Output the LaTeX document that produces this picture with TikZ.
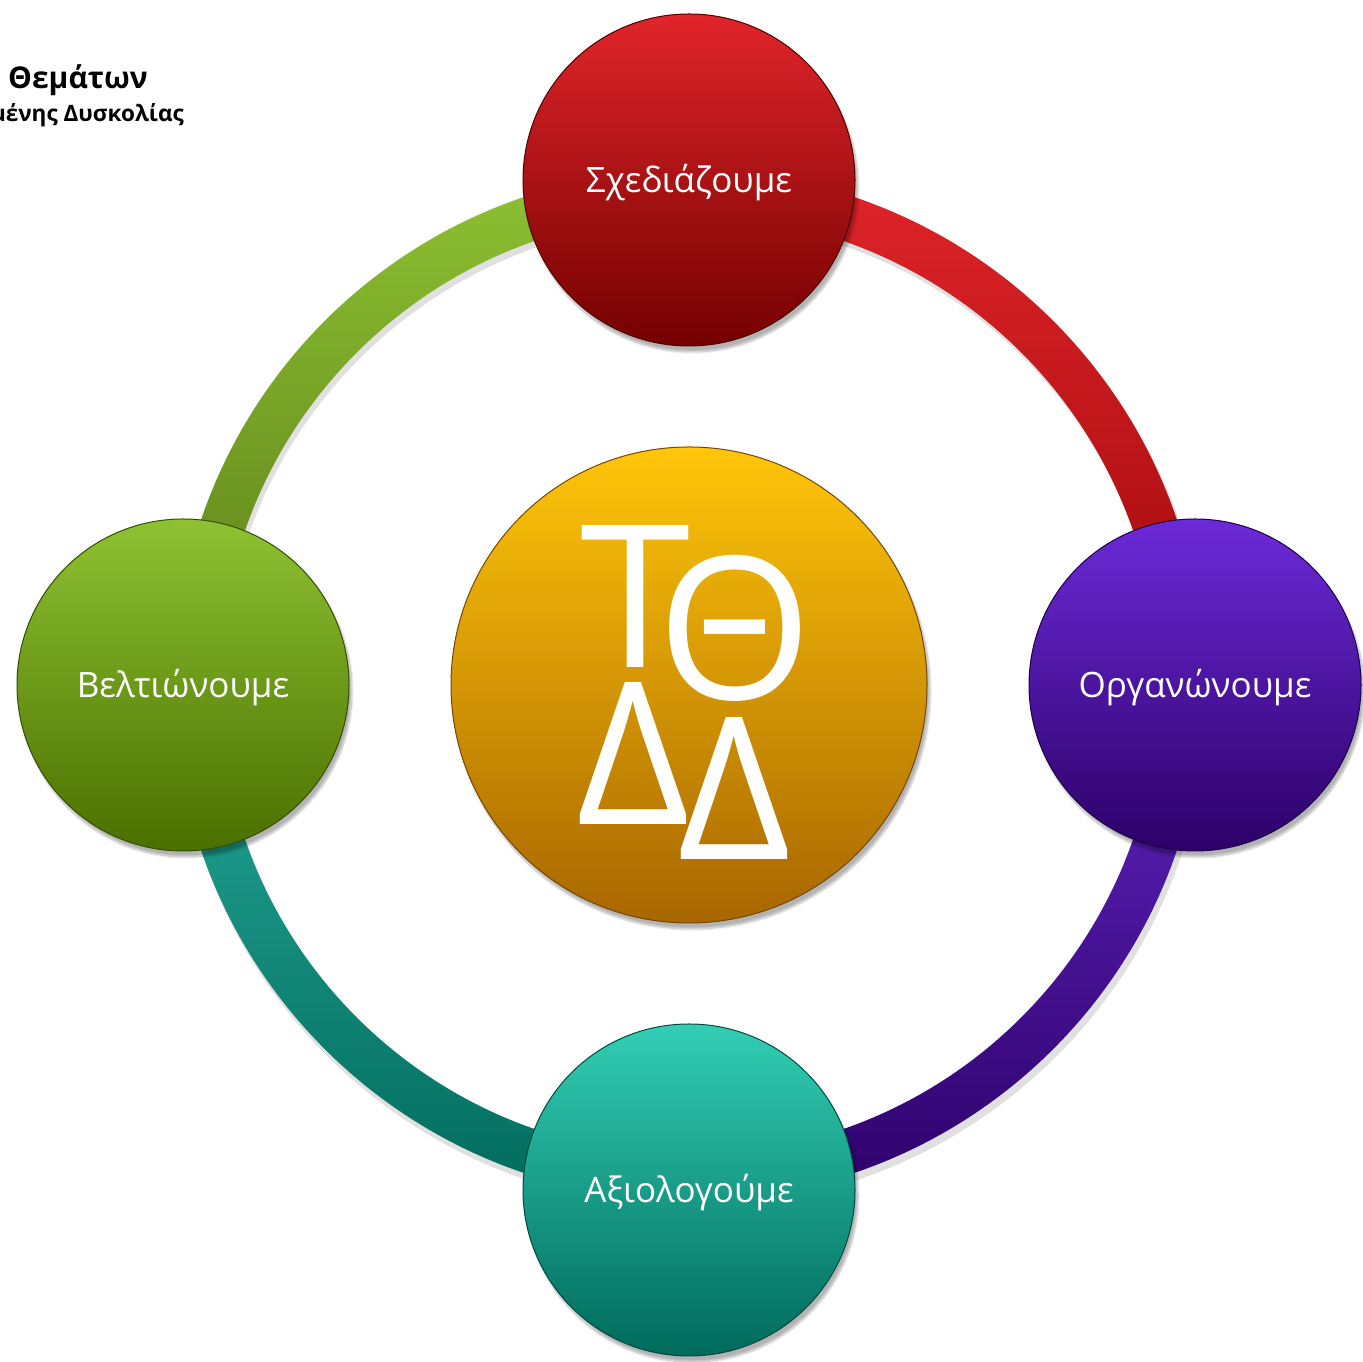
\documentclass[tikz,border=0pt]{standalone}
\usepackage{fontspec}
\usepackage{xcolor}
\setmainfont{Open Sans}
\usetikzlibrary{shadows.blur}

\definecolor{planTop}{HTML}{E0252A}
\definecolor{planMid}{HTML}{BC0A0D}
\definecolor{planBot}{HTML}{740000}
\definecolor{orgTop}{HTML}{6C2AD8}
\definecolor{orgMid}{HTML}{4A0AA8}
\definecolor{orgBot}{HTML}{2C0068}
\definecolor{evalTop}{HTML}{32CEB4}
\definecolor{evalMid}{HTML}{0FA08E}
\definecolor{evalBot}{HTML}{006A5C}
\definecolor{fixTop}{HTML}{8EC232}
\definecolor{fixMid}{HTML}{6A9A10}
\definecolor{fixBot}{HTML}{4A7000}
\definecolor{hubTop}{HTML}{FFC60A}
\definecolor{hubMid}{HTML}{FAA600}
\definecolor{hubBot}{HTML}{A86600}

\begin{document}
\begin{tikzpicture}[x=1pt, y=1pt,
    stage/.style={circle, minimum size=332pt, inner sep=0pt, text=white,
        font=\fontsize{35}{40}\selectfont, text height=25pt, text depth=0pt,
        blur shadow={shadow xshift=3pt, shadow yshift=-6pt, shadow blur steps=10, shadow opacity=30}},
    letter/.style={anchor=base, inner sep=0pt, text=white, font=\fontsize{199}{200}\selectfont},
    title/.style={inner sep=0pt, font=\bfseries\fontsize{30}{32}\selectfont}]

            \useasboundingbox (0,0) rectangle (1363,1362);

            % Centre
            \node[circle, minimum size=476pt, inner sep=0pt, top color=hubTop, middle color=hubMid,
                bottom color=hubBot, draw=hubBot!70!black, line width=1pt,
                blur shadow={shadow xshift=3pt, shadow yshift=-6pt, shadow blur steps=10, shadow opacity=30}]
                (hub) at (689,677) {};
            \node[letter] (t) at (636,694) {Τ};
            \node[letter] (th) at (735,662) {Θ};
            \node[letter] (d1) at (633,537) {Δ};
            \node[letter] (d2) at (734,502) {Δ};

            % Ring shadow
            \draw[black, opacity=.12, line width=46pt] ([shift={(3,-6)}]hub.center) circle[radius=493];

            % Ring: plan -> organise
            \begin{scope}
                \clip (hub.center) ++(90:515) arc[start angle=90, end angle=0, radius=515]
                    -- ++(-45,0) arc[start angle=0, end angle=90, radius=470] -- cycle;
                \shade[top color=planTop, bottom color=planMid!85!black] (hub.center) rectangle ++(520,520);
            \end{scope}
            % Ring: organise -> evaluate
            \begin{scope}
                \clip (hub.center) ++(0:515) arc[start angle=0, end angle=-90, radius=515]
                    -- ++(0,45) arc[start angle=-90, end angle=0, radius=470] -- cycle;
                \shade[top color=orgTop!90!black, bottom color=orgBot] (hub.center) rectangle ++(520,-520);
            \end{scope}
            % Ring: evaluate -> improve
            \begin{scope}
                \clip (hub.center) ++(-90:515) arc[start angle=-90, end angle=-180, radius=515]
                    -- ++(45,0) arc[start angle=-180, end angle=-90, radius=470] -- cycle;
                \shade[top color=evalMid!90!white, bottom color=evalBot] (hub.center) rectangle ++(-520,-520);
            \end{scope}
            % Ring: improve -> plan
            \begin{scope}
                \clip (hub.center) ++(180:515) arc[start angle=180, end angle=90, radius=515]
                    -- ++(0,-45) arc[start angle=90, end angle=180, radius=470] -- cycle;
                \shade[top color=fixTop, bottom color=fixBot!90!white] (hub.center) rectangle ++(-520,520);
            \end{scope}

            % Stages
            \node[stage, top color=planTop, middle color=planMid, bottom color=planBot,
                draw=planBot!70!black, line width=1pt] (plan) at (689,1182) {Σχεδιάζουμε};
            \node[stage, top color=orgTop, middle color=orgMid, bottom color=orgBot,
                draw=orgBot!70!black, line width=1pt] (org) at (1195,677) {Οργανώνουμε};
            \node[stage, top color=evalTop, middle color=evalMid, bottom color=evalBot,
                draw=evalBot!70!black, line width=1pt] (eval) at (689,172) {Αξιολογούμε};
            \node[stage, top color=fixTop, middle color=fixMid, bottom color=fixBot,
                draw=fixBot!70!black, line width=1pt] (fix) at (183,677) {Βελτιώνουμε};

            % Title
            \node[title, anchor=base west] (bank) at (8,1273) {Θεμάτων};
            \node[title, anchor=base east, font=\bfseries\fontsize{22.5}{24}\selectfont] (level) at (184,1240) {μένης Δυσκολίας};

        \end{tikzpicture}
\end{document}
